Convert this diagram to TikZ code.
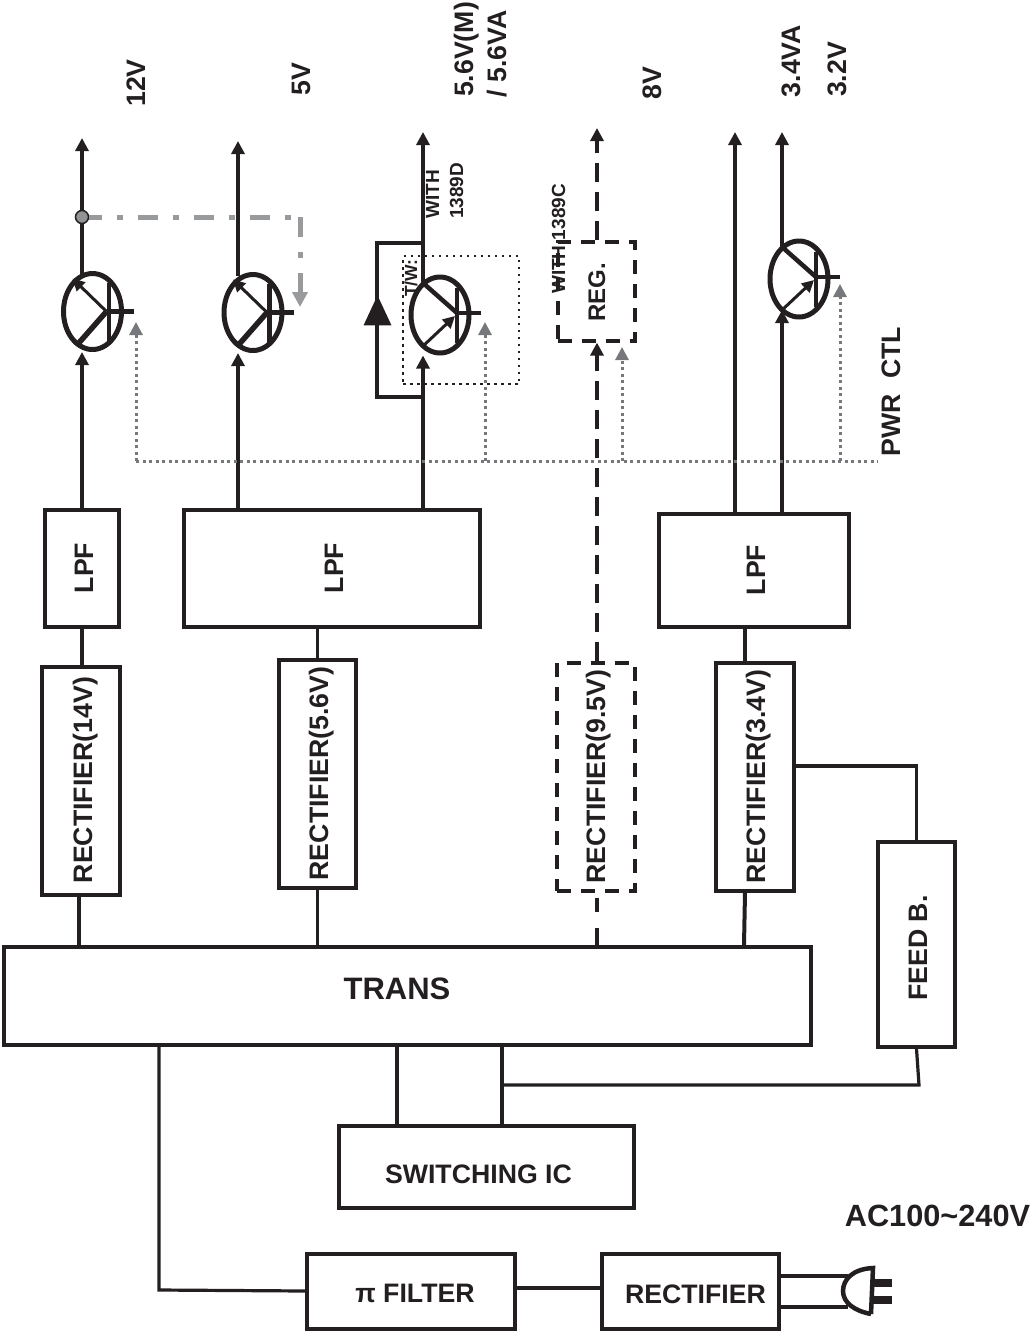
\documentclass[tikz,border=0pt]{standalone}
\usepackage{fontspec}
\setmainfont{Liberation Sans}
\usetikzlibrary{shapes.geometric, arrows.meta, positioning}
\definecolor{ink}{HTML}{231F20}
\definecolor{fbgray}{HTML}{999A9C}
\definecolor{ctlgray}{HTML}{77787B}
\tikzset{
  box/.style={rectangle, draw=ink, line width=3.2pt, inner sep=0pt},
  dashbox/.style={box, dash pattern=on 14pt off 10pt},
  lbl/.style={text=ink, inner sep=0pt, anchor=base, font=\fontsize{26.7}{30}\selectfont\bfseries},
  vlbl/.style={lbl, rotate=90},
  small/.style={text=ink, inner sep=0pt, anchor=base, rotate=90, font=\fontsize{19}{22}\selectfont\bfseries},
  wire/.style={draw=ink, line width=3.2pt},
  arrow/.style={wire, -{Triangle[width=13pt, length=13pt]}},
  dasharrow/.style={arrow, dash pattern=on 19pt off 10pt},
  ctl/.style={draw=ctlgray, line width=3pt, dash pattern=on 3pt off 3.5pt},
  ctlarrow/.style={ctl, -{Triangle[width=13pt, length=13pt]}},
  fbline/.style={draw=fbgray, line width=5pt, dash pattern=on 20pt off 15pt on 6pt off 15pt},
  fbarrow/.style={fbline, -{Triangle[width=15pt, length=15pt]}},
  qbody/.style={ellipse, draw=ink, line width=5pt, minimum width=58pt, minimum height=76pt, inner sep=0pt},
  qline/.style={draw=ink, line width=4.5pt},
  qtip/.style={draw=ink, line width=3pt, -{Triangle[width=12pt, length=12pt]}}
}
\begin{document}
\begin{tikzpicture}[x=1pt, y=-1pt]
  \useasboundingbox (0,0) rectangle (1035,1331);
  % power blocks
  \node[box, minimum width=74pt, minimum height=117pt] (lpfa) at (82,568.5) {};
  \node[box, minimum width=296pt, minimum height=117pt] (lpfb) at (332,568.5) {};
  \node[box, minimum width=190pt, minimum height=113pt] (lpfc) at (754,570.5) {};
  \node[box, minimum width=78pt, minimum height=228pt] (recta) at (81,781) {};
  \node[box, minimum width=77pt, minimum height=228pt] (rectb) at (317.5,774) {};
  \node[dashbox, minimum width=78pt, minimum height=228pt] (rectc) at (596,777) {};
  \node[box, minimum width=78pt, minimum height=228pt] (rectd) at (755,777) {};
  \node[box, minimum width=77pt, minimum height=205pt] (feed) at (916.5,944.5) {};
  \node[box, minimum width=807pt, minimum height=98pt] (trans) at (407.5,996) {};
  \node[box, minimum width=295pt, minimum height=82pt] (swic) at (486.5,1167) {};
  \node[box, minimum width=208pt, minimum height=75pt] (pifilter) at (411,1291.5) {};
  \node[box, minimum width=177pt, minimum height=75pt] (rectmain) at (690.5,1291.5) {};
  \node[dashbox, minimum width=77pt, minimum height=99pt] (reg) at (596.5,291.5) {};
  \node[lbl, font=\fontsize{31}{36}\selectfont\bfseries] (transtxt) at (397,999) {TRANS};
  \node[lbl] (swictxt) at (478.5,1183) {SWITCHING IC};
  \node[lbl] (pitxt) at (415,1302) {π FILTER};
  \node[lbl] (mainrect) at (695.5,1303) {RECTIFIER};
  \node[lbl, font=\fontsize{30.7}{36}\selectfont\bfseries] (actxt) at (937.5,1226) {AC100\char`~240V};
  \node[vlbl] (lpfatxt) at (93,568) {LPF};
  \node[vlbl] (lpfbtxt) at (343,568) {LPF};
  \node[vlbl] (lpfctxt) at (765,570) {LPF};
  \node[vlbl] (rectatxt) at (92,780) {RECTIFIER(14V)};
  \node[vlbl] (rectbtxt) at (328,773.5) {RECTIFIER(5.6V)};
  \node[vlbl] (rectctxt) at (605,776.5) {RECTIFIER(9.5V)};
  \node[vlbl] (rectdtxt) at (765,776.5) {RECTIFIER(3.4V)};
  \node[vlbl] (feedtxt) at (927,948) {FEED B.};
  \node[vlbl, font=\fontsize{24}{28}\selectfont\bfseries] (regtxt) at (605,292.5) {REG.};
  \node[vlbl] (pwrtxt) at (900,391.5) {PWR\ \ CTL};
  \node[vlbl] (vtwelve) at (145,83) {12V};
  \node[vlbl] (vfive) at (310,79) {5V};
  \node[vlbl] (vfivesixa) at (473,49.5) {5.6V(M)};
  \node[vlbl] (vfivesixb) at (506,54) {/ 5.6VA};
  \node[vlbl] (veight) at (661,83) {8V};
  \node[vlbl] (vthreefour) at (800,61) {3.4VA};
  \node[vlbl] (vthreetwo) at (846,69.5) {3.2V};
  \node[small] (withd) at (439,194.5) {WITH};
  \node[small] (numd) at (463,191) {1389D};
  \node[small] (withc) at (565,239) {WITH 1389C};
  \node[small, font=\fontsize{17.5}{20}\selectfont\bfseries] (twtxt) at (417,278) {T/W:};
  % transistors
  \node[qbody] (qa) at (92.5,311.5) {};
  \node[qbody] (qb) at (253,312.5) {};
  \node[qbody] (qc) at (440,315) {};
  \node[qbody] (qd) at (799,279) {};
  \foreach \q in {qa,qb}{
    \draw[qline] ([shift={(16.5,-29)}]\q.center) -- ([shift={(16.5,31)}]\q.center);
    \draw[qline] ([shift={(14,0)}]\q.center) -- ([shift={(41,0)}]\q.center);
    \draw[qline, line width=5.5pt] ([shift={(14,0)}]\q.center) -- ([shift={(-15,33)}]\q.center);
    \draw[qtip] ([shift={(14,0)}]\q.center) -- ([shift={(-20,-33)}]\q.center);
  }
  \foreach \q in {qc,qd}{
    \draw[qline] ([shift={(17,-27)}]\q.center) -- ([shift={(17,28)}]\q.center);
    \draw[qline] ([shift={(15,-2)}]\q.center) -- ([shift={(41,-2)}]\q.center);
    \draw[qline] ([shift={(17,-2)}]\q.center) -- ([shift={(-18,-33)}]\q.center);
    \draw[qtip] ([shift={(-18,32)}]\q.center) -- ([shift={(15,1)}]\q.center);
  }
  % outputs
  \coordinate (outa) at (82,138);
  \coordinate (outb) at (238,141);
  \coordinate (outc) at (423,132);
  \coordinate (outreg) at (597,128);
  \coordinate (outd) at (735,132);
  \coordinate (oute) at (782,132);
  \draw[arrow] (lpfa.north -| outa) -- (outa |- qa.south);
  \draw[arrow] (outa |- qa.110) -- (outa);
  \draw[arrow] (lpfb.north -| outb) -- (outb |- qb.south);
  \draw[arrow] (outb |- qb.110) -- (outb);
  \draw[arrow] (lpfb.north -| outc) -- (outc |- qc.south);
  \draw[arrow] (outc |- qc.120) -- (outc);
  \draw[arrow] (lpfc.north -| outd) -- (outd);
  \draw[arrow] (lpfc.north -| oute) -- (oute |- 0,310);
  \draw[arrow] (oute |- qd.120) -- (oute);
  \draw[dasharrow] (reg.north -| outreg) -- (outreg);
  \draw[dasharrow] (rectc.north -| outreg) -- (reg.south -| outreg);
  \draw[wire, line width=4.5pt, dash pattern=on 14pt off 16pt on 20pt off 0pt] ([yshift=-5pt]rectc.south -| outreg) -- (trans.north -| outreg);
  % bypass diode
  \coordinate (bypa) at (377,243);
  \coordinate (bypb) at (377,397);
  \node[isosceles triangle, isosceles triangle apex angle=50, shape border rotate=90, fill=ink, inner sep=0pt, minimum height=29pt, minimum width=28pt] (diode) at (377.5,316.5) {};
  \draw[wire] (outc |- bypa) -- (bypa) -- (bypb) -- (outc |- bypb);
  \node[draw=ink, line width=2.5pt, dash pattern=on 2.5pt off 4.5pt, minimum width=116pt, minimum height=128pt, inner sep=0pt] (twbox) at (461,320) {};
  % control line
  \coordinate (ctlend) at (878,461);
  \coordinate (ctla) at (136,322);
  \coordinate (ctlb) at (485,322);
  \coordinate (ctlc) at (622,347);
  \coordinate (ctld) at (840,284);
  \draw[ctl] (ctla |- ctlend) -- (ctlend);
  \foreach \c in {ctla,ctlb,ctlc,ctld}
    \draw[ctlarrow] (\c |- ctlend) -- (\c);
  % feedback
  \coordinate (fbcorner) at (300,217);
  \node[circle, draw=ink, fill=ctlgray!80, line width=1.5pt, minimum size=13pt, inner sep=0pt] (fbdot) at (82,217) {};
  \draw[fbline, dash phase=7pt] (fbdot.east) -- (fbcorner);
  \draw[fbarrow] (fbcorner) -- (fbcorner |- 0,307);
  % lower wiring
  \draw[wire] (lpfa.south -| 82,0) -- (recta.north -| 82,0);
  \draw[wire] (recta.south -| 79,0) -- (trans.north -| 79,0);
  \draw[wire] (lpfb.south -| rectb) -- (rectb.north);
  \draw[wire] (rectb.south) -- (trans.north -| rectb);
  \draw[wire] (lpfc.south -| 745,0) -- (rectd.north -| 745,0);
  \draw[wire, line width=4pt] (rectd.south -| 745,0) -- (trans.north -| 744,0);
  \draw[wire] (rectd.east |- 0,766) -| (feed.north);
  \draw[wire] (feed.south) -- (919,1085) -- (502,1085);
  \draw[wire] (trans.south -| 502,0) -- (swic.north -| 502,0);
  \draw[wire] (trans.south -| 397,0) -- (swic.north -| 397,0);
  \draw[wire] (trans.south -| 159,0) -- (159,1290) -- (pifilter.west |- 0,1291);
  \draw[wire] (pifilter.east |- 0,1288) -- (rectmain.west |- 0,1288);
  % plug
  \coordinate (plugtop) at (873,1268);
  \coordinate (plugbot) at (871,1314);
  \draw[wire] (rectmain.east |- 0,1276) -- (848,1276);
  \draw[wire] (rectmain.east |- 0,1307) -- (848,1307);
  \draw[wire, line width=4.5pt] (plugbot) -- (plugtop) .. controls (852,1269) and (843,1280) .. (843,1291) .. controls (843,1303) and (855,1311) .. (plugbot);
  \fill[ink] (872,1279) rectangle (892,1287);
  \fill[ink] (872,1296) rectangle (892,1304);
\end{tikzpicture}
\end{document}
